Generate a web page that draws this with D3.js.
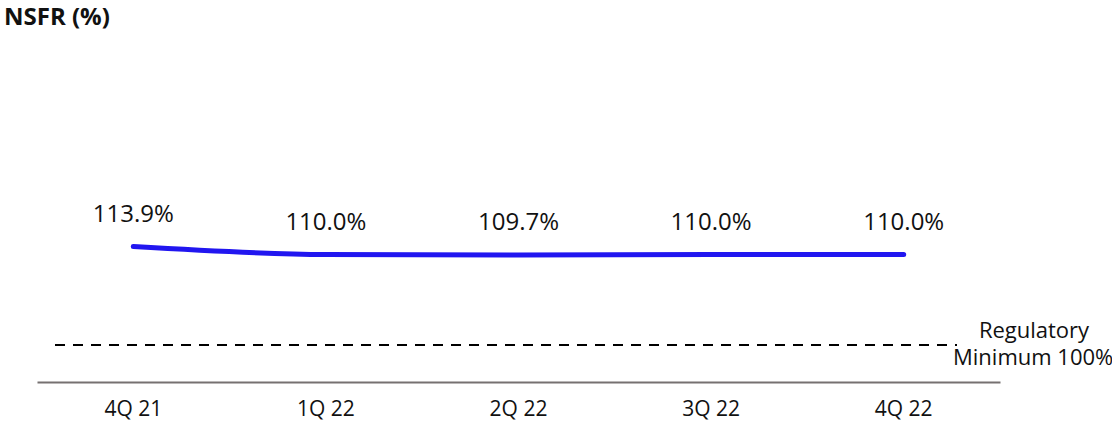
<!DOCTYPE html>
<html>
<head>
<meta charset="utf-8">
<script src="https://cdn.jsdelivr.net/npm/d3@7"></script>
<style>
  html, body { margin: 0; padding: 0; background: #fff; }
  svg { display: block; font-family: "Open Sans", "Noto Sans", sans-serif; }
</style>
</head>
<body>
<svg id="chart" width="1112" height="422"></svg>
<script>
const title = "NSFR (%)";
const categories = ["4Q 21", "1Q 22", "2Q 22", "3Q 22", "4Q 22"];
const nsfrValues = [113.9, 110.0, 109.7, 110.0, 110.0];
const valueLabels = ["113.9%", "110.0%", "109.7%", "110.0%", "110.0%"];
const referenceLabel = ["Regulatory", "Minimum 100%"];

const svg = d3.select("#chart");

const x = d3.scaleBand().domain(categories).range([37, 1000]);
const y = d3.scaleLinear().domain([100, 120]).range([275, 234]);
const cx = d => x(d) + x.bandwidth() / 2;

// title
svg.append("text")
  .attr("x", 4).attr("y", 25)
  .attr("font-size", 24).attr("font-weight", "bold").attr("fill", "#111")
  .text(title);

// x axis
const axisY = 382;
const xAxis = d3.axisBottom(x).tickSize(0).tickPadding(19);
const gx = svg.append("g").attr("transform", `translate(0,${axisY})`).call(xAxis);
gx.select(".domain").attr("stroke", "#767171").attr("stroke-width", 2);
gx.selectAll(".tick text").attr("font-size", 21).attr("fill", "#111")
  .attr("font-family", "\"Open Sans\", sans-serif");

// regulatory minimum dashed line
const refY = 345;
svg.append("line")
  .attr("x1", 55).attr("x2", 957).attr("y1", refY).attr("y2", refY)
  .attr("stroke", "#000").attr("stroke-width", 2).attr("stroke-dasharray", "10,8");

svg.append("text")
  .attr("x", 1034).attr("y", 338).attr("text-anchor", "middle")
  .attr("font-size", 22).attr("fill", "#111")
  .text(referenceLabel[0]);
svg.append("text")
  .attr("x", 953).attr("y", 365)
  .attr("font-size", 22).attr("fill", "#111")
  .text(referenceLabel[1]);

// line
const data = categories.map((c, i) => ({ c, v: nsfrValues[i], label: valueLabels[i] }));
const line = d3.line().x(d => cx(d.c)).y(d => y(d.v)).curve(d3.curveMonotoneX);
svg.append("path").datum(data)
  .attr("d", line)
  .attr("fill", "none").attr("stroke", "#2116f0")
  .attr("stroke-width", 5).attr("stroke-linecap", "round");

// value labels
svg.selectAll(".vlabel").data(data).enter().append("text")
  .attr("class", "vlabel")
  .attr("x", d => cx(d.c)).attr("y", d => y(d.v) - 25)
  .attr("text-anchor", "middle").attr("font-size", 24).attr("fill", "#111")
  .text(d => d.label);
</script>
</body>
</html>
